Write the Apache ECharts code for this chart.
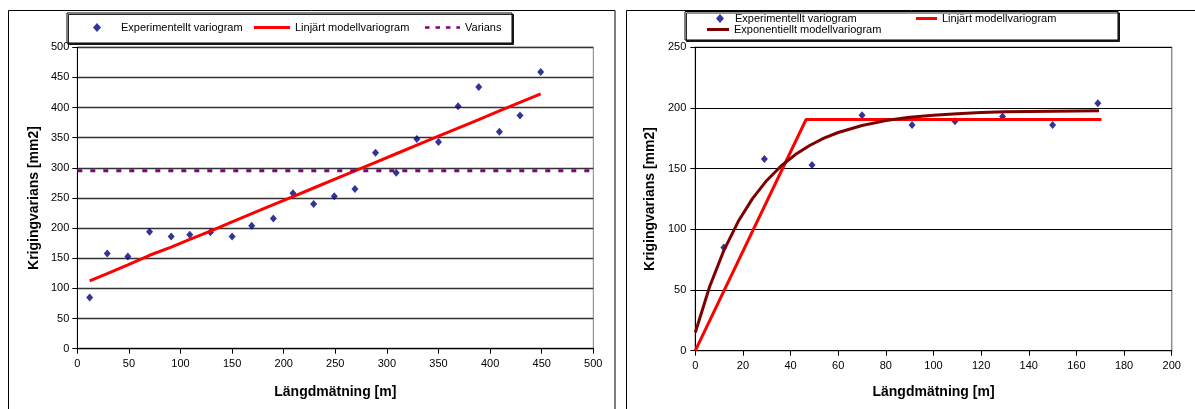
<!DOCTYPE html>
<html>
<head>
<meta charset="utf-8">
<script src="https://cdn.jsdelivr.net/npm/echarts@6/dist/echarts.min.js"></script>
<style>
  html, body { margin: 0; padding: 0; background: #fff; }
  #chart { width: 1195px; height: 409px; }
</style>
</head>
<body>
<div id="chart"></div>
<script>
// Experimental variogram: lag distance [m] and semivariance [mm2]
const lagDist = [12, 29, 49, 70, 91, 109, 129, 150, 169, 190, 209, 229, 249, 269, 289, 309, 329, 350, 369, 389, 409, 429, 449];
const expGamma = [85, 158, 153, 194, 186, 189, 193, 186, 204, 216, 258, 240, 253, 265, 325, 292, 348, 343, 402, 434, 360, 387, 459];
// Linear model evaluated at each lag
const linModel = [112.5, 124.6, 139, 155, 168.6, 181.4, 195, 210.5, 224, 238.9, 252.4, 266.6, 280.8, 295, 309.2, 323.4, 337.6, 352.5, 366, 380.2, 394.4, 408.6, 422.8];
// Sample variance, drawn across the whole distance range
const varians = 295;
const variansSpan = [0, 500];

// Short-range view: first lags only
const shortLagCount = 9;
// Linear model with sill
const linSillDist = [0, 46.5, 170.5];
const linSillVal = [0, 190.5, 190.5];
// Exponential model
const expoDist = [0, 6, 12, 18, 24, 30, 36, 42, 48, 54, 60, 70, 80, 90, 100, 110, 120, 130, 140, 150, 160, 169.5];
const expoVal = [15, 52.7, 82.7, 106.4, 125.3, 140.3, 152.2, 161.6, 169.1, 175.1, 179.8, 185.6, 189.6, 192.3, 194.1, 195.3, 196.2, 196.8, 197.2, 197.4, 197.6, 197.7];

const NAME_EXP = 'Experimentellt variogram';
const NAME_LIN = 'Linjärt modellvariogram';
const NAME_VAR = 'Varians';
const NAME_EXPO = 'Exponentiellt modellvariogram';

const FONT = 'Arial, "Liberation Sans", sans-serif';
const LEGEND_FONT_SIZE = 11;
const pairs = (xs, ys) => xs.map((x, i) => [x, ys[i]]);

// legend swatches: a solid bar and a dashed bar
const SOLID_BAR = 'rect';
const DASHED_BAR = 'path://M0,0h5v3h-5zM11.5,0h5v3h-5zM23,0h5v3h-5zM34.5,0h4v3h-4z';

function xAxisOf(gridIndex, max, interval, nameGap) {
  return {
    type: 'value', gridIndex, min: 0, max, interval,
    name: 'Längdmätning [m]', nameLocation: 'middle', nameGap,
    nameTextStyle: { color: '#000', fontFamily: FONT, fontSize: 14, fontWeight: 'bold' },
    axisLine: { show: true, onZero: false, lineStyle: { color: '#000', width: 1 } },
    axisTick: { show: true, inside: false, length: 5, lineStyle: { color: '#000' } },
    axisLabel: { color: '#000', fontFamily: FONT, fontSize: 11, margin: 10 },
    splitLine: { show: false }
  };
}
function yAxisOf(gridIndex, max, interval, nameGap, labelMargin, gridColor, gridWidth) {
  return {
    type: 'value', gridIndex, min: 0, max, interval,
    name: 'Krigingvarians [mm2]', nameLocation: 'middle', nameGap,
    nameTextStyle: { color: '#000', fontFamily: FONT, fontSize: 14, fontWeight: 'bold' },
    axisLine: { show: true, onZero: false, lineStyle: { color: '#000', width: 1 } },
    axisTick: { show: true, inside: false, length: 5, lineStyle: { color: '#000' } },
    axisLabel: { color: '#000', fontFamily: FONT, fontSize: 11, margin: labelMargin },
    splitLine: { show: true, lineStyle: { color: gridColor, width: gridWidth } }
  };
}
// One legend entry; the row is as tall as the text, so centre on the text height
function legendItem(name, left, centerY, w, h, icon, textIndent) {
  return {
    data: [name], left, top: centerY - Math.max(h, LEGEND_FONT_SIZE) / 2, orient: 'horizontal',
    padding: 0, itemWidth: w, itemHeight: h, icon,
    selectedMode: false,
    textStyle: { color: '#000', fontFamily: FONT, fontSize: LEGEND_FONT_SIZE, padding: [0, 0, 0, textIndent || 0] }
  };
}

const chart = echarts.init(document.getElementById('chart'), null, { renderer: 'canvas' });

chart.setOption({
  backgroundColor: '#fff',
  animation: false,
  grid: [
    { left: 77.3, top: 47.3, width: 516, height: 301.4, show: true, borderColor: '#808080', borderWidth: 1, backgroundColor: '#fff' },
    { left: 695.3, top: 47.3, width: 476.4, height: 303.4, show: true, borderColor: '#909090', borderWidth: 1.5, backgroundColor: '#fff' }
  ],
  xAxis: [xAxisOf(0, 500, 50, 36), xAxisOf(1, 200, 20, 34)],
  yAxis: [
    yAxisOf(0, 500, 50, 36, 8, '#333', 1.3),
    yAxisOf(1, 250, 50, 38, 9, '#000', 1)
  ],
  legend: [
    legendItem(NAME_EXP, 93, 27.5, 8, 9, 'diamond', 15),
    legendItem(NAME_LIN, 254, 27.5, 36, 3, SOLID_BAR),
    legendItem(NAME_VAR, 425, 27.5, 35, 3, DASHED_BAR),
    legendItem(NAME_EXP, 716, 18.5, 8, 9, 'diamond', 6),
    legendItem(NAME_LIN, 916, 18.5, 21, 3, SOLID_BAR),
    legendItem(NAME_EXPO, 707, 29.5, 22, 3, SOLID_BAR)
  ],
  graphic: [
    // outer chart frames
    { type: 'rect', z: 1, silent: true, shape: { x: 8.5, y: 10.5, width: 606.5, height: 420 },
      style: { fill: 'none', stroke: '#000', lineWidth: 1 } },
    { type: 'rect', z: 1, silent: true, shape: { x: 626.5, y: 10.5, width: 600, height: 420 },
      style: { fill: 'none', stroke: '#000', lineWidth: 1 } },
    // legend boxes
    { type: 'rect', z: 1, silent: true, shape: { x: 67, y: 13, width: 445, height: 30 },
      style: { fill: '#fff', stroke: '#000', lineWidth: 1, shadowColor: 'rgba(0,0,0,0.85)', shadowOffsetX: 1.5, shadowOffsetY: 1.5, shadowBlur: 0 } },
    { type: 'rect', z: 1, silent: true, shape: { x: 685, y: 11.5, width: 433, height: 28.5 },
      style: { fill: '#fff', stroke: '#000', lineWidth: 1, shadowColor: 'rgba(0,0,0,0.85)', shadowOffsetX: 1.5, shadowOffsetY: 1.5, shadowBlur: 0 } }
  ],
  series: [
    {
      name: NAME_EXP, type: 'scatter', xAxisIndex: 0, yAxisIndex: 0,
      symbol: 'diamond', symbolSize: [7, 8],
      itemStyle: { color: '#000080' },
      data: pairs(lagDist, expGamma)
    },
    {
      name: NAME_LIN, type: 'line', xAxisIndex: 0, yAxisIndex: 0,
      symbol: 'none', lineStyle: { color: '#ff0000', width: 3 }, itemStyle: { color: '#ff0000' },
      data: pairs(lagDist, linModel)
    },
    {
      name: NAME_VAR, type: 'line', xAxisIndex: 0, yAxisIndex: 0,
      symbol: 'none', lineStyle: { color: '#800080', width: 3, type: [5, 8], cap: 'butt' }, itemStyle: { color: '#800080' },
      data: variansSpan.map(x => [x, varians])
    },
    {
      name: NAME_EXP, type: 'scatter', xAxisIndex: 1, yAxisIndex: 1,
      symbol: 'diamond', symbolSize: [7, 8],
      itemStyle: { color: '#000080' },
      data: pairs(lagDist.slice(0, shortLagCount), expGamma.slice(0, shortLagCount))
    },
    {
      name: NAME_LIN, type: 'line', xAxisIndex: 1, yAxisIndex: 1,
      symbol: 'none', lineStyle: { color: '#ff0000', width: 3 }, itemStyle: { color: '#ff0000' },
      data: pairs(linSillDist, linSillVal)
    },
    {
      name: NAME_EXPO, type: 'line', xAxisIndex: 1, yAxisIndex: 1,
      symbol: 'none', lineStyle: { color: '#800000', width: 3 }, itemStyle: { color: '#800000' },
      data: pairs(expoDist, expoVal)
    }
  ]
});
</script>
</body>
</html>
